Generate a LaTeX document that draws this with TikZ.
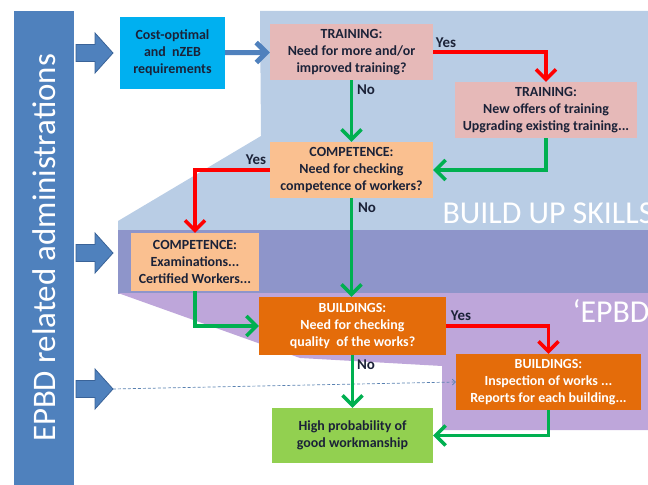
\documentclass[tikz,border=0pt]{standalone}
\usepackage{fontspec}
\setmainfont{Carlito}
\usetikzlibrary{arrows.meta, positioning}
\definecolor{epbdblue}{HTML}{4F81BD}
\definecolor{epbdedge}{HTML}{3A6398}
\definecolor{costcyan}{HTML}{00B0F0}
\definecolor{trainpink}{HTML}{E6B9B8}
\definecolor{comporange}{HTML}{FAC090}
\definecolor{buildorange}{HTML}{E46C0A}
\definecolor{goodgreen}{HTML}{92D050}
\definecolor{nogreen}{HTML}{00B050}
\definecolor{yesred}{HTML}{FF0000}
\definecolor{skillsblue}{HTML}{B9CDE5}
\definecolor{bandblue}{HTML}{8E95CA}
\definecolor{lavender}{HTML}{BEA6DA}
\definecolor{ink}{HTML}{1B2238}

\begin{document}
\begin{tikzpicture}[x=1bp, y=-1bp, box/.style={rectangle, align=center, inner sep=0pt, font=\bfseries\fontsize{14}{17}\selectfont, text=ink}, training/.style={box, fill=trainpink}, competence/.style={box, fill=comporange}, buildings/.style={box, fill=buildorange, text=white}, yesline/.style={yesred, line width=3.5bp}, noline/.style={nogreen, line width=3.5bp}, answer/.style={font=\bfseries\fontsize{15}{18}\selectfont, text=ink}, blockarrow/.style={fill=epbdblue, draw=epbdedge, line width=0.8bp}, bigword/.style={white, font=\fontsize{32}{38}\selectfont, anchor=base west}, >={Straight Barb[length=10bp,width=20bp]}]
	\useasboundingbox (0,0) rectangle (648,485);
	\clip (0,0) rectangle (648,485);

	\fill[skillsblue] (260,11) -- (648,11) -- (648,231) -- (118,231) -- (118,221) -- (261,136) -- cycle;
	\fill[bandblue] (118,230) rectangle (648,294);
	\fill[lavender] (118,293) -- (648,293) -- (648,430) -- (442,430) -- (442,366) -- (300,358) -- cycle;
	\node[bigword] (skills) at (439,224) {BUILD UP SKILLS};
	\node[bigword] (epbd) at (569,322) {‘EPBD};

	\fill[epbdblue] (14,11) rectangle (74,485);
	\node[rotate=90, anchor=base, white, font=\fontsize{33}{40}\selectfont] (admin) at (55,248) {EPBD related administrations};

	\foreach \y/\n in {53/arrA, 253/arrB, 389/arrC} {
		\draw[blockarrow] (76,\y-8.5) -- (95,\y-8.5) -- (95,\y-20) -- (113,\y) -- (95,\y+20) -- (95,\y+8.5) -- (76,\y+8.5) -- cycle;
		\coordinate (\n) at (113,\y);
	}

	\node[box, fill=costcyan, minimum width=105bp, minimum height=72bp] (cost) at (172.5,53) {Cost-optimal\\and\ \ nZEB\\requirements};
	\node[training, minimum width=163bp, minimum height=56bp] (trainq) at (351.5,52) {TRAINING:\\Need for more and/or\\improved\ training?};
	\node[training, minimum width=182bp, minimum height=56bp] (trainnew) at (546,110) {TRAINING:\\New offers of training\\Upgrading\ existing training...};
	\node[competence, minimum width=163bp, minimum height=56bp] (compq) at (351.5,170) {COMPETENCE:\\Need for checking\\competence of workers?};
	\node[competence, minimum width=128bp, minimum height=58bp] (compexam) at (195,262) {COMPETENCE:\\Examinations...\\Certified Workers...};
	\node[buildings, minimum width=187bp, minimum height=58bp] (buildq) at (352.5,326) {BUILDINGS:\\Need for checking\\quality\ \ of the works?};
	\node[buildings, minimum width=185bp, minimum height=56bp] (buildinsp) at (548.5,382) {BUILDINGS:\\Inspection\ of works ...\\Reports\ for each building...};
	\node[box, fill=goodgreen, minimum width=161bp, minimum height=55bp] (good) at (352.5,435.5) {High probability\ of\\good workmanship};

	\draw[->, epbdblue, line width=5bp] (cost) -- (trainq);
	\draw[densely dashed, epbdblue!80!gray, line width=0.7bp, -{Straight Barb[length=3bp,width=6bp]}] (arrC) -- (buildinsp.west);

	\draw[->, yesline] (trainq.east) -| (trainnew.north);
	\draw[->, noline] (trainq.south) -- (compq.north);
	\draw[->, noline] (trainnew.south) |- (compq.east);
	\draw[->, yesline] (compq.west) -| (compexam.north);
	\draw[->, noline] (compq.south) -- (compq.south |- buildq.north);
	\draw[->, noline] (compexam.south) |- (buildq.west);
	\draw[->, yesline] (buildq.east) -| (buildinsp.north);
	\draw[->, noline] (buildq.south) -- (good.north);
	\draw[->, noline] (buildinsp.south) |- (good.east);

	\node[answer] (yes1) at (446,43) {Yes};
	\node[answer] (no1) at (366,90) {No};
	\node[answer] (yes2) at (256,160) {Yes};
	\node[answer] (no2) at (367,208) {No};
	\node[answer] (yes3) at (461,316) {Yes};
	\node[answer] (no3) at (366,365) {No};
\end{tikzpicture}
\end{document}
